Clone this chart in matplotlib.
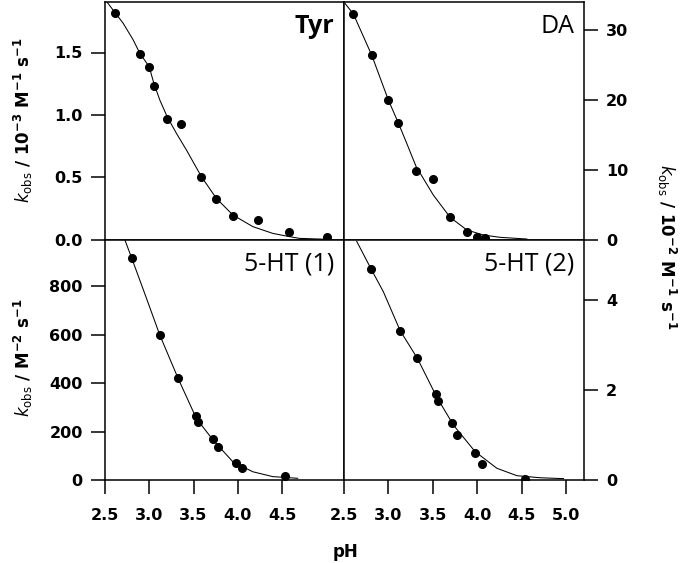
import matplotlib
matplotlib.use("Agg")
import matplotlib.pyplot as plt

plt.rcParams['mathtext.fontset'] = 'custom'
plt.rcParams['mathtext.rm'] = 'DejaVu Sans:bold'
plt.rcParams['mathtext.bf'] = 'DejaVu Sans:bold'
plt.rcParams['mathtext.it'] = 'DejaVu Sans:italic'
plt.rcParams['mathtext.sf'] = 'DejaVu Sans'

# ---------------- data ----------------
tyr_ph = [2.613, 2.894, 2.999, 3.052, 3.202, 3.356, 3.589, 3.758, 3.945, 4.231, 4.576, 5.008]
tyr_k = [1.813, 1.488, 1.387, 1.232, 0.971, 0.928, 0.501, 0.325, 0.195, 0.160, 0.067, 0.021]
tyr_fit_ph = [2.519, 2.706, 2.819, 2.894, 2.999, 3.052, 3.119, 3.202, 3.307, 3.420, 3.589, 3.758, 3.945, 4.170, 4.395, 4.583, 4.696, 5.034]
tyr_fit_k = [1.907, 1.733, 1.600, 1.493, 1.387, 1.253, 1.120, 0.987, 0.853, 0.720, 0.507, 0.333, 0.200, 0.107, 0.053, 0.027, 0.013, 0.005]

da_ph = [2.605, 2.812, 2.999, 3.112, 3.311, 3.506, 3.694, 3.889, 4.001, 4.088]
da_k = [32.3, 26.4, 20.0, 16.7, 9.86, 8.71, 3.24, 1.10, 0.38, 0.24]
da_fit_ph = [2.511, 2.605, 2.812, 2.999, 3.112, 3.206, 3.311, 3.506, 3.694, 3.882, 4.069, 4.257, 4.557]
da_fit_k = [33.8, 32.3, 26.4, 20.0, 16.7, 13.8, 10.5, 6.4, 3.24, 1.43, 0.71, 0.38, 0.14]

ht1_ph = [2.800, 3.119, 3.326, 3.532, 3.551, 3.720, 3.776, 3.983, 4.051, 4.538]
ht1_k = [917, 598, 419, 264, 238, 168, 135, 69, 48, 16]
ht1_fit_ph = [2.725, 2.800, 2.969, 3.119, 3.326, 3.532, 3.720, 3.945, 4.170, 4.395, 4.677]
ht1_fit_k = [990, 917, 749, 598, 419, 254, 165, 75, 34, 14, 7]

ht2_ph = [2.804, 3.131, 3.326, 3.532, 3.555, 3.720, 3.769, 3.975, 4.058, 4.538]
ht2_k = [4.69, 3.32, 2.70, 1.91, 1.76, 1.27, 1.00, 0.61, 0.36, 0.03]
ht2_fit_ph = [2.643, 2.804, 2.943, 3.131, 3.326, 3.544, 3.731, 3.975, 4.220, 4.445, 4.707, 4.970]
ht2_fit_k = [5.30, 4.69, 4.18, 3.32, 2.70, 1.84, 1.22, 0.63, 0.26, 0.096, 0.05, 0.03]

panel_names = ["Tyr", "DA", "5-HT (1)", "5-HT (2)"]
left_xticks = [2.5, 3.0, 3.5, 4.0, 4.5]
right_xticks = [2.5, 3.0, 3.5, 4.0, 4.5, 5.0]
tyr_yticks = [0.0, 0.5, 1.0, 1.5]
da_yticks = [0, 10, 20, 30]
ht1_yticks = [0, 200, 400, 600, 800]
ht2_yticks = [0, 2, 4]

# ---------------- figure ----------------
W, H = 685, 563
fig = plt.figure(figsize=(W / 100, H / 100), dpi=100)

def frac(x0, y0, x1, y1):
    return [x0 / W, 1 - y1 / H, (x1 - x0) / W, (y1 - y0) / H]

ax_tyr = fig.add_axes(frac(105, 2, 344, 240))
ax_da = fig.add_axes(frac(344, 2, 584, 240))
ax_h1 = fig.add_axes(frac(105, 240, 344, 480))
ax_h2 = fig.add_axes(frac(344, 240, 584, 480))

def style(ax, side):
    for s in ax.spines.values():
        s.set_linewidth(1.1)
    ax.tick_params(axis='both', direction='out', length=10, width=1.1,
                   labelsize=11.5)
    ax.tick_params(axis='y', pad=6)
    ax.tick_params(axis='x', pad=10)
    if side == 'right':
        ax.yaxis.tick_right()
    else:
        ax.yaxis.tick_left()
    for lab in ax.get_yticklabels() + ax.get_xticklabels():
        lab.set_fontweight('bold')

def draw(ax, ph, k, fph, fk):
    ax.plot(fph, fk, color='black', lw=0.75, zorder=2)
    ax.plot(ph, k, 'o', color='black', ms=5.5, zorder=3)
    ax.set_xlim(2.5, 5.2)

draw(ax_tyr, tyr_ph, tyr_k, tyr_fit_ph, tyr_fit_k)
draw(ax_da, da_ph, da_k, da_fit_ph, da_fit_k)
draw(ax_h1, ht1_ph, ht1_k, ht1_fit_ph, ht1_fit_k)
draw(ax_h2, ht2_ph, ht2_k, ht2_fit_ph, ht2_fit_k)

ax_tyr.set_ylim(0, 1.904)
ax_da.set_ylim(0, 34.0)
ax_h1.set_ylim(0, 990)
ax_h2.set_ylim(0, 5.33)

ax_tyr.set_yticks(tyr_yticks)
ax_tyr.set_yticklabels([f"{v:.1f}" for v in tyr_yticks])
ax_da.set_yticks(da_yticks)
ax_da.set_yticklabels([str(v) for v in da_yticks])
ax_h1.set_yticks(ht1_yticks)
ax_h1.set_yticklabels([str(v) for v in ht1_yticks])
ax_h2.set_yticks(ht2_yticks)
ax_h2.set_yticklabels([str(v) for v in ht2_yticks])

ax_tyr.set_xticks([])
ax_da.set_xticks([])
ax_h1.set_xticks(left_xticks)
ax_h1.set_xticklabels([f"{v:.1f}" for v in left_xticks])
ax_h2.set_xticks(right_xticks)
ax_h2.set_xticklabels([f"{v:.1f}" for v in right_xticks])

style(ax_tyr, 'left')
style(ax_da, 'right')
style(ax_h1, 'left')
style(ax_h2, 'right')

# panel labels
for ax, name in zip([ax_tyr, ax_da, ax_h1, ax_h2], panel_names):
    ax.annotate(name, xy=(1, 1), xycoords='axes fraction',
                xytext=(-10, -31), textcoords='offset pixels',
                ha='right', va='baseline', fontsize=18,
                family='Open Sans',
                fontweight='bold' if name == 'Tyr' else 'normal')

# axis labels
lab_kw = dict(fontsize=12, fontweight='bold', ha='center', va='center')
fig.text(23 / W, 1 - 120 / H,
         r"$\mathit{k}_{\mathsf{obs}}$ / 10$^{\mathrm{-3}}$ M$^{\mathrm{-1}}$ s$^{\mathrm{-1}}$",
         rotation=90, **lab_kw)
fig.text(23 / W, 1 - 358 / H,
         r"$\mathit{k}_{\mathsf{obs}}$ / M$^{\mathrm{-2}}$ s$^{\mathrm{-1}}$",
         rotation=90, **lab_kw)
fig.text(667 / W, 1 - 247 / H,
         r"$\mathit{k}_{\mathsf{obs}}$ / 10$^{\mathrm{-2}}$ M$^{\mathrm{-1}}$ s$^{\mathrm{-1}}$",
         rotation=-90, **lab_kw)
fig.text(345 / W, 1 - 552 / H, "pH", fontsize=12, fontweight='bold',
         ha='center', va='center')

fig.savefig("out.png", dpi=100)
